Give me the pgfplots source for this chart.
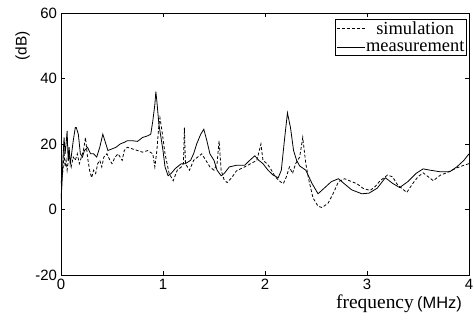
\documentclass[border=0pt]{standalone}
\usepackage{fontspec}
\setmainfont{Liberation Serif}
\setsansfont{Liberation Sans}
\usepackage{pgfplots}
\pgfplotsset{compat=1.18}
\begin{document}
\begin{tikzpicture}
\useasboundingbox (-61bp,-45bp) rectangle (413bp,275bp);
\begin{axis}[
  at={(0,0)}, anchor=south west,
  width=408bp, height=262bp, scale only axis,
  xmin=0, xmax=4, ymin=-20, ymax=60,
  xtick={0,1,2,3,4}, xticklabels={0,1,2,3,4},
  ytick={-20,0,20,40,60}, yticklabels={-20,0,20,40,60},
  tick align=inside, major tick length=4bp,
  tick style={black, line width=0.7pt},
  axis line style={line width=0.8pt},
  tick label style={font=\sffamily\fontsize{15}{15}\selectfont},
  xticklabel style={yshift=-1bp},
  yticklabel style={xshift=-0.5bp},
  xlabel={{\fontsize{19.5}{19.5}\selectfont frequency}\,\,{\sffamily\fontsize{16.5}{16.5}\selectfont (MHz)}},
  xlabel style={at={(axis description cs:0.983,-0.126)}, anchor=base east, inner sep=0pt},
  ylabel={\sffamily\fontsize{15.5}{15.5}\selectfont (dB)},
  ylabel style={at={(axis description cs:-0.094,0.874)}, anchor=center, rotate=0},
  legend style={at={(axis description cs:0.995,0.977)}, anchor=north east,
    draw=black, line width=0.6pt, fill=white, inner xsep=1.5bp, inner ysep=1.5bp, row sep=4bp,
    nodes={inner sep=0.8bp},
    font=\fontsize{18.5}{18.5}\selectfont},
  legend cell align=center,
  legend image code/.code={\draw[#1] (0bp,0bp) -- (28bp,0bp);},
]
\addplot[black, line width=0.8pt, dash pattern=on 3bp off 2bp] coordinates {
(0.00,8) (0.02,12) (0.03,18) (0.04,13) (0.05,15) (0.06,12) (0.08,17) (0.10,13)
(0.12,16) (0.14,15) (0.16,17) (0.18,14) (0.20,16) (0.22,18) (0.24,22) (0.26,16)
(0.28,12) (0.30,9.7) (0.32,12) (0.34,11) (0.36,14) (0.38,15) (0.40,13) (0.42,16)
(0.45,17) (0.48,15) (0.50,14) (0.53,16) (0.56,17) (0.60,15) (0.62,18) (0.65,19)
(0.70,18.5) (0.75,18) (0.80,17.5) (0.85,18) (0.90,17) (0.92,13) (0.94,18) (0.96,26)
(0.97,28) (0.99,24) (1.02,17) (1.06,11) (1.10,8.8) (1.14,12) (1.18,13) (1.20,14)
(1.21,25) (1.22,14) (1.26,12) (1.30,15) (1.34,16) (1.38,17) (1.42,15) (1.46,13)
(1.50,12) (1.53,14) (1.55,21) (1.57,12) (1.60,9) (1.63,8.2) (1.68,10) (1.72,11.8)
(1.80,13) (1.86,14) (1.92,15) (1.96,20) (1.98,15) (2.02,14) (2.05,12.7) (2.10,10)
(2.15,8.5) (2.18,7.9) (2.21,10) (2.24,13) (2.27,11) (2.30,14) (2.34,16) (2.37,22)
(2.40,14) (2.43,9) (2.47,3.6) (2.52,1) (2.56,0.6) (2.62,2) (2.67,5) (2.72,8.5)
(2.78,9.4) (2.85,8.5) (2.90,7.9) (2.96,6.5) (3.03,5.8) (3.08,7) (3.13,8.8) (3.20,10.5)
(3.25,10) (3.30,7.5) (3.39,5.2) (3.45,8) (3.50,10) (3.55,11.2) (3.60,10) (3.65,8.8)
(3.72,10.5) (3.78,11.2) (3.88,12.7) (3.95,13.5) (4.00,14)
};
\addlegendentry{simulation}
\addplot[black, line width=0.8pt] coordinates {
(0.00,3) (0.01,8) (0.02,16) (0.03,22) (0.04,17) (0.05,20) (0.06,24) (0.07,15)
(0.08,19) (0.09,14) (0.10,16) (0.12,21) (0.14,25) (0.15,25) (0.17,23) (0.19,17)
(0.21,16) (0.23,18) (0.26,19) (0.29,17) (0.32,17) (0.35,16) (0.38,19) (0.41,23)
(0.43,21) (0.46,18) (0.50,18.5) (0.54,19) (0.58,20) (0.62,20.5) (0.65,21) (0.70,21)
(0.75,20.8) (0.80,22) (0.85,22.5) (0.88,23) (0.90,27) (0.92,32) (0.93,36) (0.94,33)
(0.96,26) (0.98,22) (1.00,18) (1.02,13) (1.05,10.3) (1.08,11) (1.12,12.5) (1.18,14)
(1.22,14) (1.27,15) (1.30,17) (1.33,20) (1.37,23) (1.40,24.5) (1.43,21) (1.46,17)
(1.50,15) (1.53,12) (1.57,10.3) (1.60,11) (1.65,13) (1.72,13.5) (1.80,13.5) (1.85,15)
(1.90,16.4) (1.94,15) (1.98,14) (2.03,12) (2.08,10.5) (2.13,9.7) (2.16,12) (2.19,21)
(2.22,29.5) (2.25,25) (2.28,18) (2.31,15) (2.34,13.3) (2.40,12) (2.46,8) (2.52,4.8)
(2.58,6.5) (2.65,8.5) (2.72,9.4) (2.78,7.8) (2.85,6) (2.95,4.8) (3.02,5) (3.10,6.5)
(3.18,9.7) (3.25,8) (3.32,6.7) (3.40,8.5) (3.48,11) (3.55,12.4) (3.62,12) (3.72,11.5)
(3.81,11.5) (3.88,13) (3.95,15) (4.00,17)
};
\addlegendentry{measurement}
\end{axis}
\end{tikzpicture}
\end{document}
